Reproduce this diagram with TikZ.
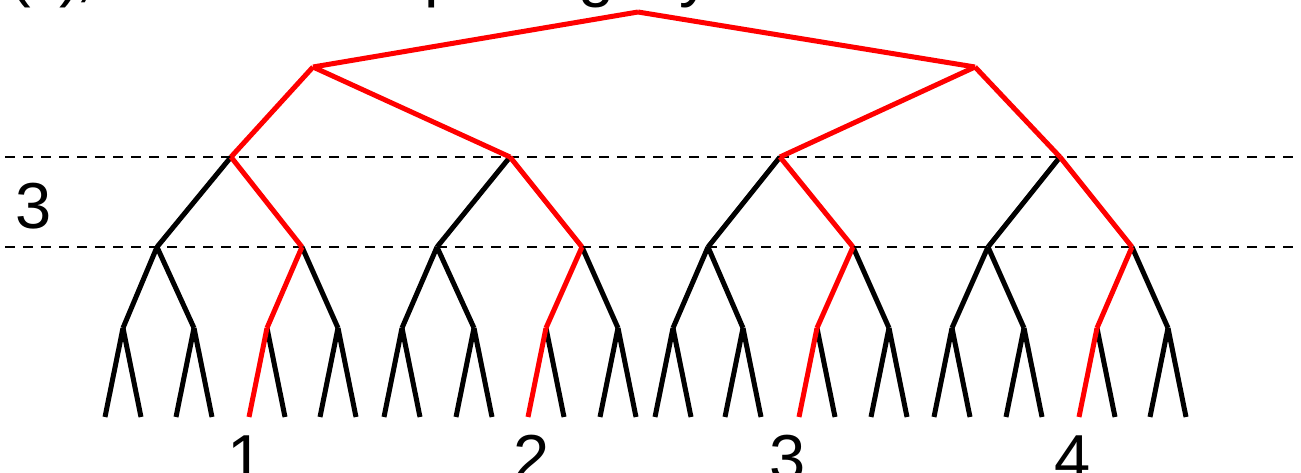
\documentclass[tikz,border=0pt]{standalone}
\usepackage{fontspec}
\setmainfont{Liberation Sans}
\begin{document}
\begin{tikzpicture}[x=1pt,y=-1pt,
  edge/.style={line width=5pt, line cap=butt},
  hot/.style={edge, draw=red},
  cold/.style={edge, draw=black},
  guide/.style={draw=black, line width=1.2pt, dash pattern=on 10pt off 8pt},
  lab/.style={font=\fontsize{65}{78}\selectfont, inner sep=0pt, anchor=base},
  frag/.style={lab, anchor=base west}]
\useasboundingbox (0,0) rectangle (1301,473);
\clip (0,0) rectangle (1301,473);
% guide lines
\coordinate (g1s) at (5,157);   \coordinate (g1e) at (1296,157);
\coordinate (g2s) at (5,247);   \coordinate (g2e) at (1296,247);
\draw[guide] (g1s) -- (g1e);
\draw[guide] (g2s) -- (g2e);
% vertices
\coordinate (r) at (638,12);
\coordinate (a1) at (313,67);
\coordinate (a2) at (975,67);
\foreach \i/\x in {1/231,2/510,3/780,4/1060} {\coordinate (b\i) at (\x,157);}
\foreach \i/\x in {1/157,2/302,3/437,4/582,5/708,6/853,7/988,8/1132} {\coordinate (c\i) at (\x,247);}
\foreach \i/\x in {1/123,2/194,3/267,4/338,5/402,6/474,7/546,8/618,9/673,10/743,11/817,12/889,13/952,14/1024,15/1097,16/1168}
  {\coordinate (d\i) at (\x,328); \coordinate (d\i L) at (\x-18,417); \coordinate (d\i R) at (\x+18,417);}
% black edges
\foreach \i in {1,...,16} {\draw[cold] (d\i) -- (d\i R);}
\foreach \i in {1,2,4,5,6,8,9,10,12,13,14,16} {\draw[cold] (d\i) -- (d\i L);}
\foreach \j/\p/\q in {1/1/2,3/5/6,5/9/10,7/13/14} {\draw[cold] (c\j) -- (d\p); \draw[cold] (c\j) -- (d\q);}
\foreach \j/\p/\q in {2/3/4,4/7/8,6/11/12,8/15/16} {\draw[cold] (c\j) -- (d\q);}
\foreach \k/\p in {1/1,2/3,3/5,4/7} {\draw[cold] (b\k) -- (c\p);}
% red path edges
\draw[hot] (r) -- (a1);
\draw[hot] (r) -- (a2);
\draw[hot] (a1) -- (b1);
\draw[hot] (a1) -- (b2);
\draw[hot] (a2) -- (b3);
\draw[hot] (a2) -- (b4);
\foreach \k/\q in {1/2,2/4,3/6,4/8} {\draw[hot] (b\k) -- (c\q);}
\foreach \j/\p in {2/3,4/7,6/11,8/15} {\draw[hot] (c\j) -- (d\p);}
\foreach \i in {3,7,11,15} {\draw[hot] (d\i) -- (d\i L);}
% labels
\node[lab] (depth) at (34,229) {3};
\node[lab] (n1) at (246,480) {1};
\node[lab] (n2) at (532,480) {2};
\node[lab] (n3) at (788,480) {3};
\node[lab] (n4) at (1073,480) {4};
% cut-off title fragments
\node[frag] (t1) at (9,-5.5) {(};
\node[frag] (t2) at (59,-5.5) {)};
\node[frag] (t3) at (75,-5.5) {,};
\node[frag] (t4) at (424,-5.5) {p};
\node[frag] (t5) at (578,-5.5) {g};
\node[frag] (t6) at (679,-5.5) {y};
\end{tikzpicture}
\end{document}
